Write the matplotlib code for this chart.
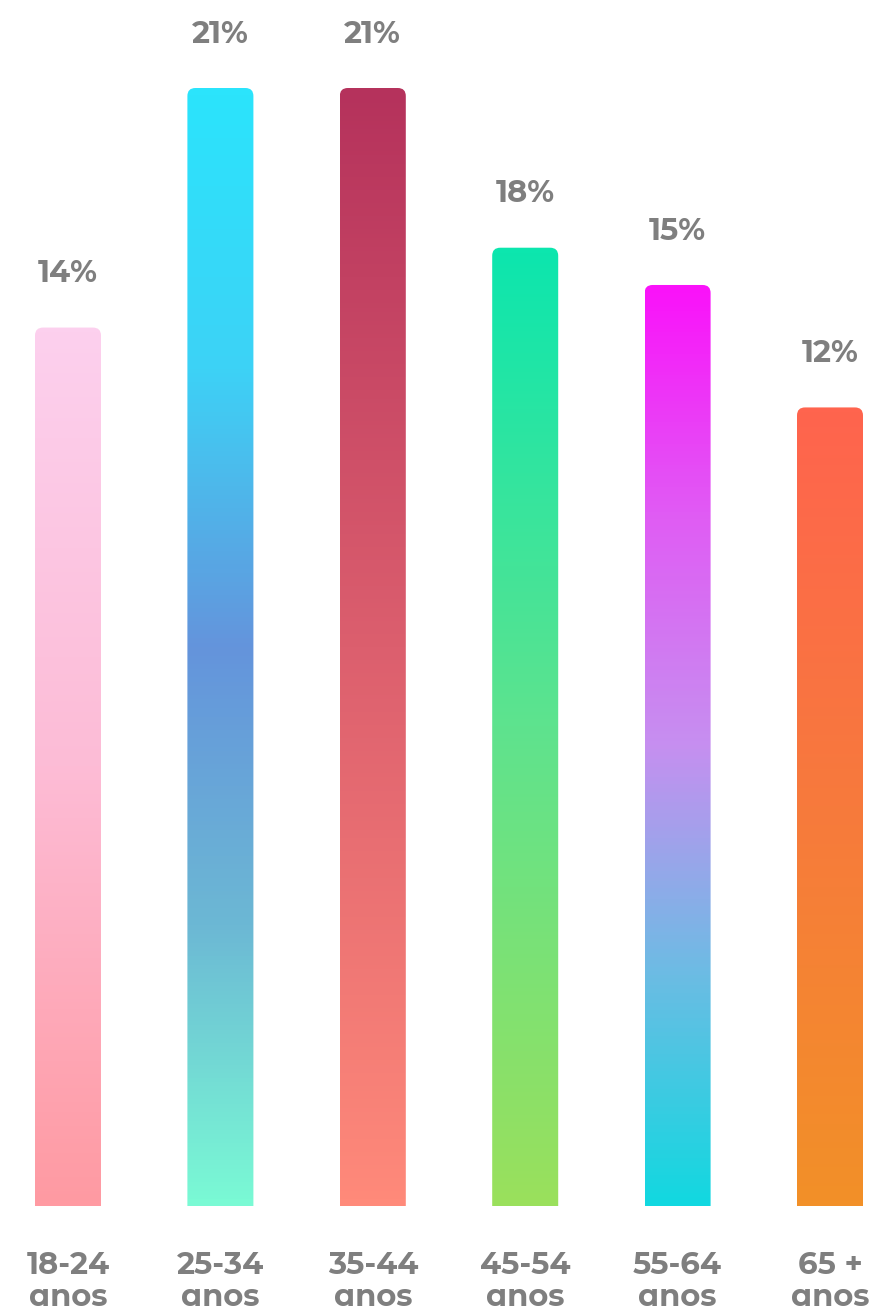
import matplotlib.pyplot as plt
import numpy as np
from matplotlib.colors import LinearSegmentedColormap
from matplotlib.patches import FancyBboxPatch

# age groups, shares printed above bars, and the bar lengths as drawn in the source
groups = ['18-24\nanos', '25-34\nanos', '35-44\nanos', '45-54\nanos', '55-64\nanos', '65 +\nanos']
shares = [14, 21, 21, 18, 15, 12]
bar_heights = [16.5, 21, 21, 18, 17.3, 15]

# gradient stops, top -> bottom
gradients = [
    ['#fcd0ee', '#fdbcd6', '#ff9aa2'],
    ['#2be4fc', '#3dd2f6', '#6494dc', '#6cb8d4', '#7afad4'],
    ['#b5325c', '#dc5f6e', '#ff8a7a'],
    ['#0ce6ae', '#5ee38e', '#9ae05c'],
    ['#fa12fa', '#e05cf4', '#c68ff0', '#6cbce4', '#12d8e0'],
    ['#ff644e', '#f77a3c', '#f29028'],
]

GRAY = '#7f7f7f'
FONT = ['Montserrat Alternates', 'Poppins', 'DejaVu Sans']

fig = plt.figure(figsize=(8.86, 13.11), dpi=100)
W, H = 886, 1311
base_px, top_px = 1206, 88          # pixel rows of 0 and 21 (from top)
ax = fig.add_axes([0, (H - base_px) / H, 1, (base_px - top_px) / H])

spacing = 152.4                      # px between bar centres
x0 = -68 / spacing
ax.set_xlim(x0, x0 + W / spacing)
ax.set_ylim(0, 21)
ax.axis('off')

px_per_unit = (base_px - top_px) / 21
width = 66 / spacing
r_x = 8 / spacing
r_y = 8 / px_per_unit

for i, (h, stops) in enumerate(zip(bar_heights, gradients)):
    cmap = LinearSegmentedColormap.from_list(f'g{i}', stops)
    grad = np.linspace(0, 1, 256).reshape(-1, 1)
    left = i - width / 2
    im = ax.imshow(grad, cmap=cmap, aspect='auto', origin='upper',
                   extent=(left, left + width, 0, h), interpolation='bilinear', zorder=2)
    clip = FancyBboxPatch((left, -1), width, h + 1,
                          boxstyle=f'round,pad=0,rounding_size={r_x}',
                          mutation_aspect=r_y / r_x, transform=ax.transData,
                          fc='none', ec='none')
    ax.add_patch(clip)
    im.set_clip_path(clip)

    ax.annotate(f'{shares[i]}%', (i, h), xytext=(0, 54), textcoords='offset pixels',
                ha='center', va='center', fontsize=22, fontweight='bold',
                color=GRAY, family=FONT, annotation_clip=False)

    ax.text(i, -44 / px_per_unit, groups[i], ha='center', va='top',
            fontsize=22, fontweight='bold', color=GRAY, family=FONT,
            linespacing=1.13, clip_on=False)

fig.savefig('out.png', dpi=100)
